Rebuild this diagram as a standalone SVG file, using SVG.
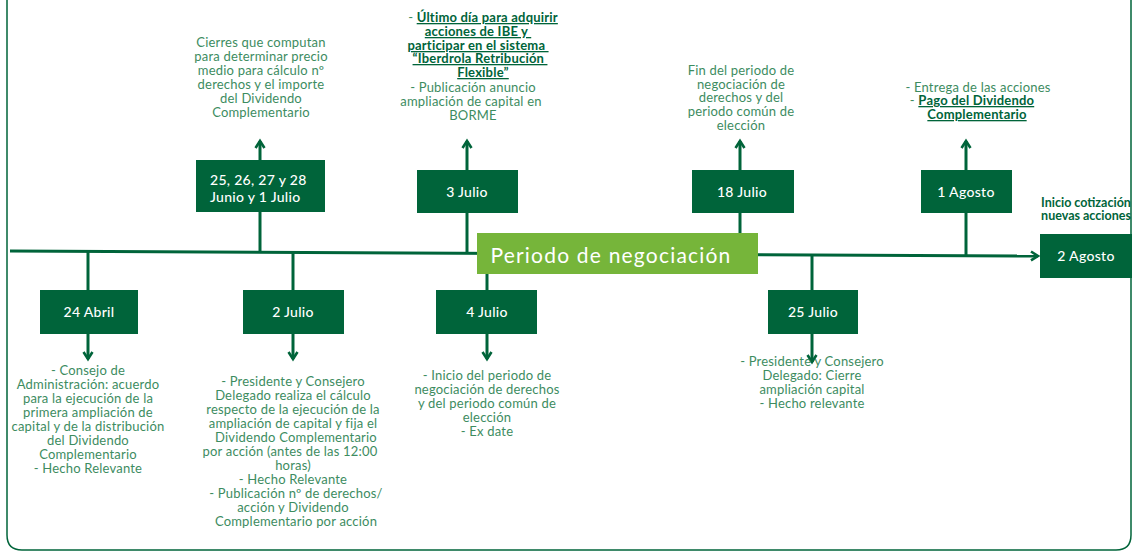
<svg xmlns="http://www.w3.org/2000/svg" width="1136" height="556" viewBox="0 0 1136 556">
<defs>
<style>
.box{fill:#00643a}
.lbl{fill:#ffffff;font-family:Lato,"Open Sans",sans-serif;font-size:14px;font-weight:500;letter-spacing:0.3px;text-anchor:middle}
.desc{fill:#3d8c5f;font-family:Lato,"Open Sans",sans-serif;font-size:13px;letter-spacing:0.2px;text-anchor:middle}
.hl{fill:#00643a;font-weight:700;text-decoration:underline}
.conn{stroke:#00643a;stroke-width:3;fill:none}
.frame{stroke:#00643a;stroke-width:1.5;fill:none}
</style>
<marker id="chev" viewBox="0 0 12 12" refX="9" refY="6" markerWidth="12" markerHeight="12" markerUnits="userSpaceOnUse" orient="auto">
<path d="M2,1.5 L9,6 L2,10.5" fill="none" stroke="#00643a" stroke-width="2.6"/>
</marker>
</defs>
<path class="frame" d="M7,0 V535 Q7,550 22,550 H1116 Q1131,550 1131,535 V0"/>
<g id="connectors">
<line class="conn" x1="10" y1="251" x2="1038" y2="256" marker-end="url(#chev)"/>
<line class="conn" x1="260" y1="251" x2="260" y2="141" marker-end="url(#chev)"/>
<line class="conn" x1="467" y1="252" x2="467" y2="141" marker-end="url(#chev)"/>
<line class="conn" x1="740" y1="254" x2="740" y2="141" marker-end="url(#chev)"/>
<line class="conn" x1="966" y1="255" x2="966" y2="141" marker-end="url(#chev)"/>
<line class="conn" x1="88" y1="251" x2="88" y2="359" marker-end="url(#chev)"/>
<line class="conn" x1="293" y1="252" x2="293" y2="359" marker-end="url(#chev)"/>
<line class="conn" x1="487" y1="253" x2="487" y2="359" marker-end="url(#chev)"/>
<line class="conn" x1="812" y1="255" x2="812" y2="362" marker-end="url(#chev)"/>
</g>
<g id="periodo">
<rect x="477" y="233" width="281" height="41" fill="#76b53a"/>
<text x="611" y="263" fill="#ffffff" font-family="Lato,'Open Sans',sans-serif" font-size="21" letter-spacing="1.2" text-anchor="middle">Periodo de negociación</text>
</g>
<g id="n-junio">
<rect class="box" x="196" y="160" width="129" height="52"/>
<text class="lbl" x="210" y="185" style="text-anchor:start">25, 26, 27 y 28</text>
<text class="lbl" x="210" y="202" style="text-anchor:start">Junio y 1 Julio</text>
<text class="desc"><tspan x="261" y="47">Cierres que computan</tspan><tspan x="261" y="61">para determinar precio</tspan><tspan x="261" y="75">medio para cálculo nº</tspan><tspan x="261" y="89">derechos y el importe</tspan><tspan x="261" y="103">del Dividendo</tspan><tspan x="261" y="117">Complementario</tspan></text>
</g>
<g id="n-3julio">
<rect class="box" x="417" y="170" width="101" height="43"/>
<text class="lbl" x="467" y="197">3 Julio</text>
<text class="desc"><tspan x="483" y="22">- <tspan class="hl">Último día para adquirir</tspan></tspan><tspan class="hl" x="478" y="36">acciones de IBE y </tspan><tspan class="hl" x="478" y="50">participar en el sistema </tspan><tspan class="hl" x="480" y="63">“Iberdrola Retribución </tspan><tspan class="hl" x="483" y="77">Flexible”</tspan><tspan x="473" y="92">- Publicación anuncio</tspan><tspan x="471" y="106">ampliación de capital en</tspan><tspan x="473" y="120">BORME</tspan></text>
</g>
<g id="n-18julio">
<rect class="box" x="692" y="170" width="102" height="43"/>
<text class="lbl" x="742" y="197">18 Julio</text>
<text class="desc"><tspan x="741" y="75">Fin del periodo de</tspan><tspan x="741" y="89">negociación de</tspan><tspan x="741" y="102">derechos y del</tspan><tspan x="741" y="116">periodo común de</tspan><tspan x="741" y="130">elección</tspan></text>
</g>
<g id="n-1agosto">
<rect class="box" x="921" y="170" width="91" height="43"/>
<text class="lbl" x="966" y="197">1 Agosto</text>
<text class="desc"><tspan x="978" y="92">- Entrega de las acciones</tspan><tspan x="972" y="105">- <tspan class="hl">Pago del Dividendo</tspan></tspan><tspan class="hl" x="977" y="119">Complementario</tspan></text>
</g>
<g id="n-2agosto">
<rect class="box" x="1040" y="234" width="92" height="44"/>
<text class="lbl" x="1086" y="261">2 Agosto</text>
<text class="desc" style="fill:#00643a;font-weight:700;font-size:12.5px;letter-spacing:0"><tspan x="1086" y="207">Inicio cotización</tspan><tspan x="1086" y="220">nuevas acciones</tspan></text>
</g>
<g id="n-24abril">
<rect class="box" x="40" y="290" width="98" height="44"/>
<text class="lbl" x="89" y="317">24 Abril</text>
<text class="desc"><tspan x="88" y="375">- Consejo de</tspan><tspan x="88" y="389">Administración: acuerdo</tspan><tspan x="88" y="403">para la ejecución de la</tspan><tspan x="88" y="417">primera ampliación de</tspan><tspan x="88" y="431">capital y de la distribución</tspan><tspan x="88" y="445">del Dividendo</tspan><tspan x="88" y="459">Complementario</tspan><tspan x="88" y="473">- Hecho Relevante</tspan></text>
</g>
<g id="n-2julio">
<rect class="box" x="243" y="290" width="101" height="44"/>
<text class="lbl" x="293" y="317">2 Julio</text>
<text class="desc"><tspan x="293" y="386">- Presidente y Consejero</tspan><tspan x="293" y="400">Delegado realiza el cálculo</tspan><tspan x="293" y="414">respecto de la ejecución de la</tspan><tspan x="293" y="428">ampliación de capital y fija el</tspan><tspan x="296" y="442">Dividendo Complementario</tspan><tspan x="290" y="456">por acción (antes de las 12:00</tspan><tspan x="293" y="470">horas)</tspan><tspan x="293" y="484">- Hecho Relevante</tspan><tspan x="296" y="498">- Publicación nº de derechos/</tspan><tspan x="293" y="512">acción y Dividendo</tspan><tspan x="296" y="526">Complementario por acción</tspan></text>
</g>
<g id="n-4julio">
<rect class="box" x="436" y="290" width="101" height="44"/>
<text class="lbl" x="487" y="317">4 Julio</text>
<text class="desc"><tspan x="487" y="380">- Inicio del periodo de</tspan><tspan x="487" y="394">negociación de derechos</tspan><tspan x="487" y="408">y del periodo común de</tspan><tspan x="487" y="422">elección</tspan><tspan x="487" y="436">- Ex date</tspan></text>
</g>
<g id="n-25julio">
<rect class="box" x="768" y="290" width="90" height="44"/>
<text class="lbl" x="813" y="317">25 Julio</text>
<text class="desc"><tspan x="812" y="366">- Presidente y Consejero</tspan><tspan x="812" y="380">Delegado: Cierre</tspan><tspan x="812" y="394">ampliación capital</tspan><tspan x="812" y="408">- Hecho relevante</tspan></text>
</g>
</svg>
